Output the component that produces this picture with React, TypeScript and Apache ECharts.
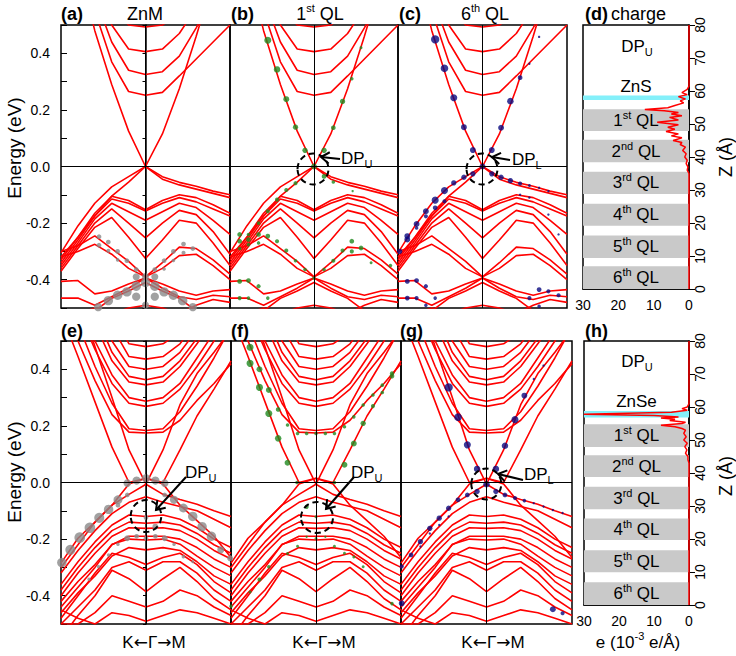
import React, { useEffect, useRef } from "react";
import * as echarts from "echarts";

const FONT = "'Liberation Sans', Arial, sans-serif";
const RED = "#ff0000";
const GREY = "#8a8a8a";
const GREEN = "#1f8a1f";
const NAVY = "#0a0a80";

// k-path sample points: K (-1) <- Gamma (0) -> M (1)
const kPoints = [-1, -0.8, -0.6, -0.4, -0.2, 0, 0.2, 0.4, 0.6, 0.8, 1];

// ZnS/Bi2Se3 bands (top row), energies (eV) at kPoints
const znsBands = [
  [0.95, 0.72, 0.48, 0.29, 0.125, 0, 0.115, 0.275, 0.46, 0.66, 0.86],
  [0.98, 0.78, 0.55, 0.37, 0.265, 0.252, 0.262, 0.32, 0.38, 0.44, 0.5],
  [1.02, 0.82, 0.6, 0.44, 0.34, 0.325, 0.335, 0.39, 0.49, 0.6, 0.72],
  [1.06, 0.86, 0.64, 0.5, 0.415, 0.406, 0.415, 0.47, 0.56, 0.66, 0.78],
  [1.1, 0.9, 0.7, 0.56, 0.5, 0.493, 0.5, 0.54, 0.62, 0.72, 0.84],
  [-0.305, -0.21, -0.13, -0.072, -0.036, 0, -0.036, -0.056, -0.07, -0.087, -0.1],
  [-0.32, -0.25, -0.175, -0.105, -0.055, 0, -0.045, -0.065, -0.08, -0.095, -0.11],
  [-0.33, -0.25, -0.165, -0.105, -0.12, -0.153, -0.12, -0.1, -0.11, -0.135, -0.165],
  [-0.34, -0.26, -0.175, -0.115, -0.13, -0.157, -0.13, -0.11, -0.125, -0.15, -0.175],
  [-0.35, -0.27, -0.185, -0.13, -0.16, -0.19, -0.16, -0.13, -0.145, -0.19, -0.24],
  [-0.36, -0.28, -0.2, -0.15, -0.2, -0.252, -0.2, -0.155, -0.17, -0.23, -0.31],
  [-0.37, -0.29, -0.215, -0.18, -0.25, -0.325, -0.26, -0.19, -0.2, -0.27, -0.35],
  [-0.3, -0.28, -0.245, -0.29, -0.335, -0.39, -0.34, -0.285, -0.29, -0.33, -0.38],
  [-0.32, -0.3, -0.275, -0.31, -0.36, -0.39, -0.36, -0.315, -0.31, -0.35, -0.4],
  [-0.406, -0.403, -0.45, -0.44, -0.415, -0.394, -0.415, -0.44, -0.455, -0.44, -0.435],
  [-0.465, -0.465, -0.49, -0.46, -0.43, -0.394, -0.43, -0.46, -0.47, -0.455, -0.46],
  [-0.65, -0.58, -0.51, -0.466, -0.44, -0.41, -0.44, -0.466, -0.51, -0.58, -0.65],
  [-0.55, -0.52, -0.5, -0.52, -0.5, -0.49, -0.5, -0.52, -0.49, -0.47, -0.48],
];

// ZnSe/Bi2Se3 bands (bottom row)
const znseBands = [
  [0.85, 0.66, 0.48, 0.3, 0.115, -0.006, 0.115, 0.275, 0.385, 0.46, 0.54],
  [0.6, 0.445, 0.285, 0.125, 0.0, 0.015, 0.0, 0.115, 0.235, 0.33, 0.43],
  [0.64, 0.5, 0.36, 0.24, 0.178, 0.175, 0.178, 0.22, 0.29, 0.35, 0.42],
  [0.72, 0.56, 0.41, 0.28, 0.19, 0.184, 0.19, 0.25, 0.34, 0.44, 0.55],
  [0.76, 0.61, 0.47, 0.35, 0.28, 0.269, 0.28, 0.33, 0.41, 0.5, 0.6],
  [0.8, 0.65, 0.5, 0.38, 0.3, 0.287, 0.3, 0.35, 0.44, 0.53, 0.63],
  [0.85, 0.7, 0.56, 0.43, 0.355, 0.345, 0.355, 0.41, 0.49, 0.58, 0.68],
  [0.9, 0.75, 0.6, 0.46, 0.375, 0.363, 0.375, 0.43, 0.51, 0.61, 0.71],
  [0.95, 0.8, 0.65, 0.5, 0.41, 0.4, 0.41, 0.46, 0.54, 0.64, 0.74],
  [1.0, 0.85, 0.7, 0.55, 0.445, 0.436, 0.445, 0.49, 0.57, 0.67, 0.77],
  [1.05, 0.9, 0.75, 0.6, 0.49, 0.48, 0.49, 0.53, 0.6, 0.7, 0.8],
  [-0.285, -0.197, -0.14, -0.08, -0.005, 0.015, -0.005, -0.08, -0.135, -0.19, -0.265],
  [-0.3, -0.22, -0.14, -0.08, -0.042, -0.006, -0.042, -0.06, -0.077, -0.1, -0.12],
  [-0.32, -0.24, -0.17, -0.11, -0.07, -0.05, -0.07, -0.085, -0.1, -0.13, -0.16],
  [-0.36, -0.28, -0.21, -0.15, -0.115, -0.12, -0.115, -0.13, -0.16, -0.2, -0.23],
  [-0.38, -0.3, -0.23, -0.17, -0.14, -0.144, -0.14, -0.15, -0.18, -0.22, -0.25],
  [-0.4, -0.32, -0.25, -0.19, -0.16, -0.162, -0.16, -0.17, -0.2, -0.24, -0.27],
  [-0.42, -0.35, -0.29, -0.22, -0.19, -0.19, -0.19, -0.2, -0.23, -0.27, -0.3],
  [-0.44, -0.37, -0.3, -0.218, -0.2, -0.203, -0.2, -0.218, -0.26, -0.3, -0.33],
  [-0.46, -0.39, -0.33, -0.26, -0.23, -0.238, -0.23, -0.24, -0.28, -0.33, -0.36],
  [-0.48, -0.4, -0.32, -0.25, -0.265, -0.29, -0.265, -0.25, -0.29, -0.35, -0.39],
  [-0.5, -0.44, -0.38, -0.3, -0.28, -0.31, -0.28, -0.28, -0.32, -0.38, -0.42],
  [-0.55, -0.47, -0.4, -0.31, -0.34, -0.386, -0.34, -0.3, -0.35, -0.41, -0.45],
  [-0.5, -0.5, -0.46, -0.4, -0.42, -0.44, -0.42, -0.38, -0.4, -0.44, -0.47],
  [-0.45, -0.48, -0.5, -0.46, -0.47, -0.49, -0.47, -0.45, -0.46, -0.48, -0.5],
];

// projected weights: [k, E, dot diameter]
const dotsA = [
  [-0.55, -0.248, 4], [-0.44, -0.267, 4], [-0.33, -0.3, 4], [-0.22, -0.333, 4], [-0.11, -0.364, 4],
  [-0.55, -0.278, 4], [-0.44, -0.298, 3.5], [-0.33, -0.33, 3],
  [0.11, -0.364, 4], [0.22, -0.333, 4], [0.33, -0.3, 4], [0.45, -0.274, 4], [0.56, -0.29, 4],
  [0.22, -0.362, 3], [0.33, -0.332, 3], [0.45, -0.305, 3.5],
  [0, -0.389, 6], [0, -0.41, 8], [-0.11, -0.423, 8], [-0.22, -0.443, 8], [-0.33, -0.455, 8], [-0.44, -0.474, 8], [-0.56, -0.497, 7],
  [0.11, -0.423, 8], [0.22, -0.443, 8], [0.33, -0.455, 8], [0.44, -0.474, 8], [0.56, -0.497, 7],
  [-0.11, -0.46, 7], [0.11, -0.46, 7], [-0.11, -0.39, 6], [0.11, -0.39, 6], [0, -0.49, 6],
];
const dotsB = [
  [-0.55, 0.446, 6], [-0.44, 0.343, 5.5], [-0.33, 0.238, 5], [-0.22, 0.139, 4.5], [-0.107, 0.057, 4.5],
  [0.12, 0.057, 4.5], [0.23, 0.137, 4], [0.34, 0.23, 4.5], [0.45, 0.31, 3], [0.56, 0.42, 2.5],
  [0, 0, 5],
  [0.12, -0.035, 4], [0.23, -0.055, 3], [0.46, -0.087, 2],
  [-0.22, -0.059, 3.5], [-0.33, -0.083, 3.5], [-0.44, -0.117, 3.5], [-0.55, -0.158, 3.5], [-0.66, -0.2, 3], [-0.78, -0.24, 3], [-0.885, -0.29, 3],
  [-0.885, -0.24, 4], [-0.885, -0.264, 4], [-0.78, -0.258, 4], [-0.78, -0.276, 3], [-0.66, -0.24, 4], [-0.66, -0.27, 3], [-0.55, -0.246, 4],
  [-0.44, -0.264, 3.5], [-0.33, -0.297, 3.5], [-0.22, -0.333, 3], [-0.107, -0.364, 3], [0, -0.394, 3],
  [0.12, -0.364, 3], [0.23, -0.333, 3.5], [0.34, -0.297, 3.5], [0.45, -0.264, 4], [0.56, -0.288, 4], [0.45, -0.3, 3.5], [0.68, -0.34, 2.5], [0.91, -0.35, 3],
  [-0.885, -0.406, 4], [-0.78, -0.403, 4], [-0.66, -0.423, 3.5], [-0.55, -0.465, 3], [-0.885, -0.465, 3.5], [-0.78, -0.465, 3],
];
const dotsC = [
  [-0.56, 0.449, 7], [-0.45, 0.347, 6.5], [-0.34, 0.243, 6], [-0.22, 0.139, 5], [-0.114, 0.058, 5],
  [0.11, 0.058, 5], [0.22, 0.137, 5], [0.33, 0.231, 5.5], [0.445, 0.314, 4], [0.555, 0.363, 2], [0.67, 0.458, 2],
  [0, 0, 5],
  [-0.114, -0.026, 4.5], [-0.22, -0.038, 4.5], [-0.34, -0.058, 4.5], [-0.45, -0.085, 6], [-0.56, -0.119, 6], [-0.67, -0.158, 5], [-0.78, -0.203, 5], [-0.89, -0.246, 5], [-0.98, -0.3, 4.5],
  [-0.45, -0.123, 3.5], [-0.56, -0.146, 4], [-0.67, -0.176, 3.5], [-0.78, -0.217, 3], [-0.89, -0.258, 5],
  [0.11, -0.026, 4.5], [0.22, -0.038, 4.5], [0.33, -0.05, 4.5], [0.445, -0.06, 3.5], [0.555, -0.067, 2.5], [0.67, -0.075, 2], [0.78, -0.087, 2],
  [0.445, -0.1, 2], [0.555, -0.11, 2], [0.78, -0.17, 2], [0.9, -0.24, 2],
  [-0.89, -0.406, 4], [-0.78, -0.403, 4], [-0.67, -0.423, 3.5], [-0.56, -0.465, 3], [-0.89, -0.465, 4], [-0.78, -0.465, 3.5], [-0.67, -0.49, 3],
  [0.67, -0.435, 4], [0.78, -0.441, 3.5], [0.9, -0.455, 3.5], [0.555, -0.465, 3.5], [0.67, -0.494, 3],
];
const dotsE = [
  [0, 0.015, 7], [-0.11, 0.007, 7], [-0.22, -0.002, 6.5], [0.11, 0.007, 7], [0.22, -0.002, 6.5],
  [-0.33, -0.061, 7.5], [-0.44, -0.095, 8], [-0.55, -0.125, 8.5], [-0.66, -0.16, 9], [-0.78, -0.195, 9], [-0.89, -0.238, 8.5], [-0.99, -0.283, 8],
  [0.33, -0.061, 7], [0.44, -0.09, 7.5], [0.55, -0.12, 8], [0.66, -0.156, 8], [0.77, -0.19, 8], [0.88, -0.238, 6], [0.99, -0.268, 5],
  [-0.22, -0.044, 4], [-0.33, -0.08, 4], [0.22, -0.044, 4],
  [0, -0.124, 4], [0.11, -0.156, 5], [-0.22, -0.197, 5], [-0.11, -0.19, 4], [0, -0.197, 4], [0.11, -0.19, 4], [0.22, -0.197, 5],
  [-0.33, -0.218, 3], [-0.44, -0.256, 3], [-0.56, -0.297, 3], [-0.67, -0.342, 3], [0.33, -0.218, 3], [0.44, -0.262, 3], [0.55, -0.28, 2.5],
];
const dotsF = [
  [-0.776, 0.478, 6], [-0.776, 0.421, 6], [-0.665, 0.4, 5], [-0.665, 0.336, 6], [-0.555, 0.327, 5], [-0.555, 0.244, 6],
  [-0.445, 0.258, 4], [-0.445, 0.156, 5.5], [-0.335, 0.203, 3], [-0.335, 0.07, 5],
  [-0.217, 0.173, 3], [-0.11, 0.173, 3], [0, 0.173, 3], [0.11, 0.173, 3], [0.217, 0.173, 3],
  [-0.224, 0, 3], [0.217, 0, 3],
  [0.335, 0.0625, 5], [0.445, 0.138, 5], [0.555, 0.209, 4.5], [0.67, 0.27, 3.5], [0.78, 0.318, 3], [0.894, 0.376, 4],
  [0.335, 0.197, 3], [0.445, 0.232, 3], [0.555, 0.274, 3], [0.67, 0.309, 3], [0.78, 0.344, 3], [0.894, 0.386, 3.5],
  [-0.11, -0.086, 3.5], [0, -0.121, 2.5], [0, -0.198, 2.5], [-0.11, -0.192, 2], [0.11, -0.192, 2], [-0.217, -0.225, 2.5],
  [-0.335, -0.251, 2.5], [-0.555, -0.298, 3], [-0.665, -0.343, 3.5], [-0.776, -0.387, 2.5], [-1, -0.437, 3],
  [0.217, -0.225, 2.5], [0.335, -0.25, 2.5], [0.445, -0.263, 2.5], [0.555, -0.298, 2.5], [0.894, -0.428, 3],
];
const dotsG = [
  [-0.443, 0.336, 7], [-0.333, 0.231, 6.5], [-0.224, 0.133, 6], [-0.11, 0.048, 5.5],
  [0.11, 0.048, 5.5], [0.216, 0.13, 5.5], [0.333, 0.222, 6], [0.443, 0.307, 5], [0.553, 0.366, 2], [0.667, 0.413, 2],
  [0, -0.006, 5.5],
  [-0.11, -0.032, 4.5], [-0.224, -0.044, 4], [-0.333, -0.061, 4], [-0.443, -0.091, 4.5], [-0.553, -0.126, 4.5], [-0.663, -0.162, 4.5],
  [-0.773, -0.209, 4.5], [-0.882, -0.256, 4], [-0.992, -0.297, 3.5], [-0.992, -0.427, 5],
  [-0.443, -0.12, 2], [-0.553, -0.15, 2], [-0.663, -0.18, 2], [-0.773, -0.226, 2],
  [0.11, -0.032, 4.5], [0.216, -0.044, 4], [0.333, -0.055, 3.5], [0.443, -0.064, 3], [0.553, -0.073, 2], [0.667, -0.085, 2], [0.776, -0.097, 2], [0.89, -0.108, 2],
  [0.776, -0.448, 5], [0.89, -0.462, 3.5],
];

// charge density of DP_U (e, 10^-3 e/Å) vs Z (Å)
const chargeZ_ZnS = [0, 35, 36, 37, 38, 39, 40, 41, 42, 43, 43.8, 44.4, 45, 45.8, 46.4, 47, 47.7, 48.4, 49, 49.8, 50.5, 51.2, 52, 52.5, 53, 53.5, 54, 54.4, 54.9, 55.6, 56.4, 57, 57.6, 58.3, 58.9, 59.5, 60.5, 61.5, 80];
const chargeE_ZnS = [0, 0, 0.5, 0.3, 0.8, 0.5, 1.2, 0.8, 1.8, 1, 2.5, 2, 4.5, 2, 5, 3, 6.5, 4, 6, 3, 9, 3, 5.5, 2, 5, 3, 7, 12.5, 6, 4, 1.5, 2.5, 1, 3, 0.5, 2, 0.5, 0, 0];
const chargeZ_ZnSe = [0, 42, 43, 44, 45, 46, 47, 48, 49, 50, 51, 52, 53, 53.5, 54, 54.5, 55, 55.4, 55.9, 56.3, 56.7, 57, 57.4, 57.8, 58.4, 59, 59.5, 60, 61, 80];
const chargeE_ZnSe = [0, 0, 0, 0.3, 0.3, 1.0, 0.6, 1.2, 0.5, 1.5, 0.8, 1.5, 1, 2, 4, 8, 2, 1, 5.5, 4, 8, 3, 10, 30, 5, 0.5, 2, 0.5, 0, 0];

// quintuple layers (Z ranges, Å)
const qlNum = ["6", "5", "4", "3", "2", "1"];
const qlSuf = ["th", "th", "th", "rd", "nd", "st"];
const qlLoZnS = [0, 9.4, 19.2, 28.8, 38.4, 47.9];
const qlHiZnS = [6.9, 16.2, 25.8, 35.5, 45.2, 54.5];
const qlLoZnSe = [0, 9.9, 19.7, 29, 38.8, 47.9];
const qlHiZnSe = [6.9, 16.6, 26.2, 35.8, 45.4, 54.8];
const capZnS = [57.3, 58.6];
const capZnSe = [56.8, 58.8];

const GRIDS = [
  { left: 61, top: 25, width: 169, height: 283 },
  { left: 230, top: 25, width: 168, height: 283 },
  { left: 398, top: 25, width: 169, height: 283 },
  { left: 583, top: 25, width: 106, height: 264 },
  { left: 61, top: 341, width: 170, height: 283 },
  { left: 231, top: 341, width: 170, height: 283 },
  { left: 401, top: 341, width: 171, height: 283 },
  { left: 584, top: 341, width: 105, height: 264 },
];

const DOT_SCALE = 1.18;

const richMain = (size: number) => ({
  n: { fontSize: size, fontFamily: FONT, color: "#000", fill: "#000", lineHeight: size + 6 },
  s: { fontSize: 11, fontFamily: FONT, color: "#000", fill: "#000", lineHeight: 12, verticalAlign: "top" },
  u: { fontSize: 11, fontFamily: FONT, color: "#000", fill: "#000", lineHeight: 12, verticalAlign: "bottom" },
  a: { fontSize: 17, fontFamily: "'DejaVu Sans', sans-serif", color: "#000", fill: "#000", lineHeight: 23 },
});

function text(x: number, y: number, t: string, opts: any = {}) {
  return {
    type: "text",
    x,
    y,
    z: 100,
    rotation: opts.rotation || 0,
    style: {
      text: t,
      fill: "#000",
      fontSize: opts.fontSize || 18,
      fontFamily: FONT,
      fontWeight: opts.bold ? "bold" : "normal",
      align: opts.align || "left",
      verticalAlign: "middle",
      rich: opts.rich,
    },
  };
}

function arrow(tail: number[], tip: number[]) {
  const dx = tail[0] - tip[0];
  const dy = tail[1] - tip[1];
  const L = Math.hypot(dx, dy);
  const ux = dx / L, uy = dy / L;
  const len = 10, a = 0.6;
  const arm = (ang: number) => [
    tip[0] + len * (ux * Math.cos(ang) - uy * Math.sin(ang)),
    tip[1] + len * (ux * Math.sin(ang) + uy * Math.cos(ang)),
  ];
  const st = { stroke: "#000", lineWidth: 2, fill: null };
  return [
    { type: "polyline", z: 100, shape: { points: [tail, tip] }, style: st },
    { type: "polyline", z: 100, shape: { points: [arm(a), tip, arm(-a)] }, style: st },
  ];
}

function ellipse(cx: number, cy: number, rx: number, ry: number) {
  return {
    type: "ellipse",
    z: 100,
    shape: { cx, cy, rx, ry },
    style: { fill: "none", stroke: "#000", lineWidth: 2, lineDash: [6, 4] },
  };
}

function buildOption() {
  const grid = GRIDS.map((g) => ({ ...g, show: true, borderColor: "#000", borderWidth: 1.5, backgroundColor: "transparent" }));
  const xAxis: any[] = [];
  const yAxis: any[] = [];
  GRIDS.forEach((_, i) => {
    if (i === 3 || i === 7) {
      xAxis.push({
        gridIndex: i, type: "value", min: 0, max: 30, interval: 5, inverse: true,
        axisLine: { show: true, lineStyle: { color: "#000", width: 1.5 } },
        axisTick: { show: true, inside: true, length: 5, lineStyle: { color: "#000", width: 1 } },
        axisLabel: { show: true, fontSize: 14, color: "#000", margin: 9, fontFamily: FONT, formatter: (v: number) => (v % 10 === 0 ? String(v) : "") },
        splitLine: { show: false },
      });
      yAxis.push({
        gridIndex: i, type: "value", min: 0, max: 80, interval: 10, position: "left",
        axisLine: { show: true, lineStyle: { color: "#000", width: 1.5 } },
        axisTick: { show: true, inside: true, length: 6, lineStyle: { color: "#000" } },
        axisLabel: { show: false }, splitLine: { show: false },
      });
    } else {
      xAxis.push({ gridIndex: i, type: "value", min: -1, max: 1, show: false });
      const lab = i === 0 || i === 4;
      yAxis.push({
        gridIndex: i, type: "value", min: -0.5, max: 0.5, interval: 0.1, show: lab, position: "left",
        axisLine: { show: true, lineStyle: { color: "#000", width: 1.5 } },
        axisTick: { show: true, inside: false, length: 3, lineStyle: { color: "#000" } },
        axisLabel: {
          show: true, fontSize: 14, color: "#000", margin: 11, fontFamily: FONT,
          formatter: (v: number) => {
            const t = Math.round(v * 10);
            return t % 2 === 0 && Math.abs(t) < 5 ? (t / 10).toFixed(1) : "";
          },
        },
        splitLine: { show: false },
      });
    }
  });
  [0, 4].forEach((gi) => {
    yAxis.push({
      gridIndex: gi, type: "value", min: -0.5, max: 0.5, interval: 0.1, position: "left",
      axisLine: { show: false }, axisTick: { show: true, inside: true, length: 6, lineStyle: { color: "#000" } },
      axisLabel: { show: false }, splitLine: { show: false },
    });
  });
  [3, 7].forEach((gi) => {
    yAxis.push({
      gridIndex: gi, type: "value", min: 0, max: 80, interval: 10, position: "right",
      axisLine: { show: false }, axisTick: { show: false },
      axisLabel: { show: true, rotate: 90, fontSize: 14, color: "#000", margin: 4, fontFamily: FONT },
      splitLine: { show: false },
    });
  });

  const series: any[] = [];
  const panels = [
    { g: 0, bands: znsBands, dots: dotsA, color: GREY },
    { g: 1, bands: znsBands, dots: dotsB, color: GREEN },
    { g: 2, bands: znsBands, dots: dotsC, color: NAVY },
    { g: 4, bands: znseBands, dots: dotsE, color: GREY },
    { g: 5, bands: znseBands, dots: dotsF, color: GREEN },
    { g: 6, bands: znseBands, dots: dotsG, color: NAVY },
  ];
  panels.forEach((p) => {
    p.bands.forEach((b, bi) => {
      series.push({
        type: "line", xAxisIndex: p.g, yAxisIndex: p.g, silent: true, clip: true,
        data: kPoints.map((k, j) => [k, b[j]]),
        showSymbol: false, symbol: "none",
        lineStyle: { color: RED, width: 1.6 }, z: 3,
        markLine: bi === 0 ? {
          silent: true, symbol: ["none", "none"], label: { show: false },
          lineStyle: { color: "#000", width: 1, type: "solid" },
          data: [{ yAxis: 0 }, { xAxis: 0 }],
        } : undefined,
      });
    });
    series.push({
      type: "scatter", xAxisIndex: p.g, yAxisIndex: p.g, silent: true, clip: true,
      data: p.dots,
      symbolSize: (v: number[]) => v[2] * DOT_SCALE,
      itemStyle: { color: p.color }, z: 4,
    });
  });

  const qlRich = {
    n: { fontSize: 17, fontFamily: FONT, color: "#000", lineHeight: 22 },
    s: { fontSize: 11, fontFamily: FONT, color: "#000", lineHeight: 12, verticalAlign: "top" },
  };
  const chargePanel = (g: number, zs: number[], es: number[], lo: number[], hi: number[], cap: number[], capName: string) => {
    const areas: any[] = lo.map((l, i) => [
      {
        yAxis: l, itemStyle: { color: "#c9c9c9" },
        label: { show: true, position: "inside", formatter: `{n|${qlNum[i]}}{s|${qlSuf[i]}}{n| QL}`, rich: qlRich },
      },
      { yAxis: hi[i] },
    ]);
    areas.push([
      {
        yAxis: cap[0], itemStyle: { color: "#84f0fa" },
        label: { show: true, position: "top", distance: 1, formatter: capName, fontSize: 17, color: "#000", fontFamily: FONT },
      },
      { yAxis: cap[1] },
    ]);
    series.push({
      type: "line", xAxisIndex: g, yAxisIndex: g, silent: true, clip: true,
      data: zs.map((z, i) => [es[i], z]),
      showSymbol: false, symbol: "none",
      lineStyle: { color: RED, width: 1.5 }, z: 3,
      markArea: { silent: true, data: areas },
    });
  };
  chargePanel(3, chargeZ_ZnS, chargeE_ZnS, qlLoZnS, qlHiZnS, capZnS, "ZnS");
  chargePanel(7, chargeZ_ZnSe, chargeE_ZnSe, qlLoZnSe, qlHiZnSe, capZnSe, "ZnSe");

  const R18 = richMain(18);
  const R17 = richMain(17);
  const kLabel = "{n|K}{a|←}{n|Γ}{a|→}{n|M}";
  const elements: any[] = [
    text(61, 14, "(a)", { bold: true }),
    text(145, 14, "ZnM", { align: "center" }),
    text(231, 14, "(b)", { bold: true }),
    text(320, 14, "{n|1}{s|st}{n| QL}", { align: "center", rich: R18 }),
    text(399, 14, "(c)", { bold: true }),
    text(485, 14, "{n|6}{s|th}{n| QL}", { align: "center", rich: R18 }),
    text(585, 14, "(d)", { bold: true }),
    text(611, 14, "charge", {}),
    text(61, 331, "(e)", { bold: true }),
    text(231, 331, "(f)", { bold: true }),
    text(400, 331, "(g)", { bold: true }),
    text(585, 331, "(h)", { bold: true }),
    text(14, 148, "Energy (eV)", { align: "center", rotation: Math.PI / 2, fontSize: 19 }),
    text(14, 472, "Energy (eV)", { align: "center", rotation: Math.PI / 2, fontSize: 19 }),
    text(154, 642, kLabel, { align: "center", rich: R17 }),
    text(324, 642, kLabel, { align: "center", rich: R17 }),
    text(493, 642, kLabel, { align: "center", rich: R17 }),
    text(638, 642, "{n|e (10}{s|-3}{n| e/Å)}", { align: "center", rich: R17 }),
    text(726, 157, "Z (Å)", { align: "center", rotation: Math.PI / 2, fontSize: 18 }),
    text(726, 476, "Z (Å)", { align: "center", rotation: Math.PI / 2, fontSize: 18 }),
    text(637, 46, "{n|DP}{u|U}", { align: "center", rich: R17 }),
    text(637, 361, "{n|DP}{u|U}", { align: "center", rich: R17 }),
    text(341, 158, "{n|DP}{u|U}", { rich: R17 }),
    text(512, 159, "{n|DP}{u|L}", { rich: R17 }),
    text(185, 472, "{n|DP}{u|U}", { rich: R17 }),
    text(351, 472, "{n|DP}{u|U}", { rich: R17 }),
    text(524, 474, "{n|DP}{u|L}", { rich: R17 }),
    ellipse(313, 169, 15.5, 15.5),
    ellipse(482, 169, 15.5, 15.5),
    ellipse(146, 516, 15.3, 16),
    ellipse(317, 517.5, 16, 15.5),
    ellipse(486.3, 484, 15, 15.5),
    ...arrow([340, 159], [321, 157]),
    ...arrow([510, 160], [492, 157]),
    ...arrow([186, 477], [156, 510]),
    ...arrow([354, 477], [326, 509]),
    ...arrow([523, 480], [498, 474]),
  ];

  return {
    animation: false,
    backgroundColor: "#fff",
    textStyle: { fontFamily: FONT },
    grid,
    xAxis,
    yAxis,
    series,
    graphic: { elements },
  };
}

export default function App() {
  const ref = useRef<HTMLDivElement>(null);
  useEffect(() => {
    const chart = echarts.init(ref.current!, undefined, { renderer: "svg" });
    chart.setOption(buildOption() as any);
    return () => chart.dispose();
  }, []);
  return (
    <div
      ref={ref}
      style={{ position: "fixed", left: 0, top: 0, width: 736, height: 656, background: "#fff" }}
    />
  );
}
